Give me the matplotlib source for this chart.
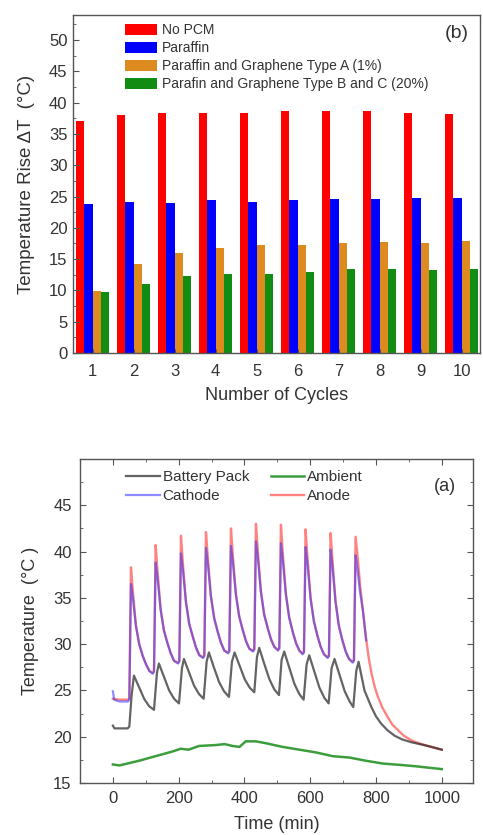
import numpy as np
import matplotlib
matplotlib.use("Agg")
import matplotlib.pyplot as plt
from matplotlib.ticker import MultipleLocator

plt.rcParams['font.family'] = ['Liberation Sans', 'DejaVu Sans']

# ---------------- data: panel (b) bar chart ----------------
cycles = [1, 2, 3, 4, 5, 6, 7, 8, 9, 10]
series_names = ["No PCM", "Paraffin", "Paraffin and Graphene Type A (1%)",
                "Parafin and Graphene Type B and C (20%)"]
no_pcm = [37.1, 38.0, 38.3, 38.4, 38.4, 38.6, 38.6, 38.6, 38.3, 38.2]
paraffin = [23.8, 24.1, 24.0, 24.4, 24.2, 24.4, 24.6, 24.6, 24.7, 24.7]
graphene_a = [9.9, 14.2, 16.0, 16.7, 17.3, 17.3, 17.6, 17.8, 17.5, 17.9]
graphene_bc = [9.8, 11.0, 12.3, 12.6, 12.7, 13.0, 13.4, 13.5, 13.3, 13.5]
bar_colors = ["#ff0000", "#0000ff", "#dd8a1e", "#138c13"]

# ---------------- data: panel (a) temperature vs time ----------------
battery_pack = [(0, 21.2), (5, 20.9), (45, 20.9), (50, 21.1), (57, 24.5), (64, 26.6),
    (79, 25.4), (95, 24.1), (110, 23.3), (125, 22.9), (134, 26.9), (140, 27.9),
    (155, 26.5), (171, 25.0), (186, 24.1), (201, 23.6), (210, 27.4), (216, 28.4),
    (231, 27.0), (247, 25.5), (262, 24.6), (276, 24.1), (285, 28.1), (292, 29.1),
    (307, 27.5), (323, 25.9), (338, 24.9), (353, 24.3), (362, 28.1), (370, 29.1),
    (385, 27.7), (401, 26.2), (416, 25.3), (430, 24.8), (438, 28.6), (445, 29.6),
    (460, 27.9), (476, 26.2), (491, 25.1), (505, 24.5), (513, 28.3), (521, 29.2),
    (536, 27.5), (552, 25.7), (567, 24.6), (580, 24.0), (589, 27.8), (597, 28.8),
    (612, 27.1), (628, 25.3), (643, 24.2), (656, 23.6), (665, 27.4), (674, 28.4),
    (689, 26.7), (705, 24.9), (720, 23.8), (731, 23.2), (740, 27.1), (747, 28.1),
    (765, 25.0), (786, 23.2), (800, 22.2), (816, 21.4), (835, 20.7), (857, 20.1),
    (880, 19.7), (908, 19.4), (958, 19.0), (1000, 18.6)]

anode = [(0, 24.1), (20, 24.0), (46, 24.0), (50, 24.2), (55, 38.3),
    (60, 36.0), (70, 32.0), (80, 30.0), (91, 28.7), (101, 27.8), (111, 27.1), (121, 26.9), (125, 27.1), (130, 40.7),
    (135, 38.2), (145, 33.8), (155, 31.5), (166, 30.1), (176, 29.0), (186, 28.2), (198, 28.0), (202, 28.2), (207, 41.7),
    (212, 39.1), (222, 34.6), (232, 32.2), (243, 30.8), (253, 29.6), (263, 28.8), (274, 28.6), (278, 28.8), (283, 42.1),
    (288, 39.7), (298, 35.2), (308, 32.8), (319, 31.3), (329, 30.1), (339, 29.3), (350, 29.1), (354, 29.3), (359, 42.5),
    (364, 39.9), (374, 35.4), (384, 33.0), (395, 31.5), (405, 30.3), (415, 29.5), (426, 29.3), (430, 29.5), (435, 43.0),
    (440, 40.4), (450, 35.7), (460, 33.2), (471, 31.7), (481, 30.5), (491, 29.7), (502, 29.4), (506, 29.6), (511, 42.9),
    (516, 40.1), (526, 35.4), (536, 32.9), (547, 31.3), (557, 30.1), (567, 29.3), (577, 29.0), (581, 29.2), (586, 42.4),
    (591, 39.7), (601, 35.0), (611, 32.5), (622, 30.9), (632, 29.7), (642, 28.9), (653, 28.6), (657, 28.8), (662, 42.0),
    (667, 39.4), (677, 34.6), (687, 32.0), (698, 30.4), (708, 29.2), (718, 28.4), (729, 28.1), (733, 28.3), (738, 41.6),
    (745, 39.1), (752, 36.2), (760, 33.7), (770, 30.6), (778, 28.5), (786, 26.9), (796, 25.4),
    (806, 24.3), (820, 23.1), (836, 22.1), (850, 21.3), (867, 20.7), (885, 20.1), (908, 19.6),
    (930, 19.3), (958, 19.0), (1000, 18.6)]

cathode = [(0, 24.9), (4, 24.0), (20, 23.8), (46, 23.8), (50, 24.0), (55, 36.5),
    (60, 35.2), (70, 32.0), (80, 30.0), (91, 28.7), (101, 27.8), (111, 27.1), (121, 26.8), (125, 27.0), (130, 38.8),
    (135, 37.4), (145, 33.8), (155, 31.5), (166, 30.1), (176, 29.0), (186, 28.2), (198, 27.9), (202, 28.1), (207, 39.8),
    (212, 38.3), (222, 34.6), (232, 32.2), (243, 30.8), (253, 29.6), (263, 28.8), (274, 28.5), (278, 28.7), (283, 40.4),
    (288, 38.9), (298, 35.2), (308, 32.8), (319, 31.3), (329, 30.1), (339, 29.3), (350, 29.0), (354, 29.2), (359, 40.6),
    (364, 39.1), (374, 35.4), (384, 33.0), (395, 31.5), (405, 30.3), (415, 29.5), (426, 29.2), (430, 29.4), (435, 41.1),
    (440, 39.6), (450, 35.7), (460, 33.2), (471, 31.7), (481, 30.5), (491, 29.7), (502, 29.3), (506, 29.5), (511, 40.9),
    (516, 39.3), (526, 35.4), (536, 32.9), (547, 31.3), (557, 30.1), (567, 29.3), (577, 28.9), (581, 29.1), (586, 40.5),
    (591, 38.9), (601, 35.0), (611, 32.5), (622, 30.9), (632, 29.7), (642, 28.9), (653, 28.5), (657, 28.7), (662, 40.2),
    (667, 38.6), (677, 34.6), (687, 32.0), (698, 30.4), (708, 29.2), (718, 28.4), (729, 28.0), (733, 28.2), (738, 39.6),
    (743, 38.3), (752, 35.5), (760, 33.7), (770, 30.4)]

ambient = [(0, 17.0), (20, 16.9), (79, 17.4), (130, 17.9), (181, 18.4), (206, 18.7),
    (230, 18.6), (262, 19.0), (313, 19.1), (340, 19.2), (364, 19.0), (385, 18.9),
    (404, 19.5), (435, 19.5), (465, 19.3), (516, 18.9), (567, 18.6), (618, 18.3),
    (668, 17.9), (719, 17.75), (770, 17.4), (821, 17.1), (872, 16.96), (923, 16.8),
    (1000, 16.5)]

TXT = "#333333"
SPINE = "#555555"

fig = plt.figure(figsize=(4.83, 8.35), dpi=100)

# ================= panel (b) =================
axb = fig.add_axes([73/483, 1-353/835, 407/483, 338/835])
x = np.array(cycles, dtype=float)
w = 0.2
for i, (vals, name, c) in enumerate(zip([no_pcm, paraffin, graphene_a, graphene_bc],
                                         series_names, bar_colors)):
    axb.bar(x + (i - 1.5) * w, vals, width=w, color=c, label=name, linewidth=0)
axb.set_xlim(0.52, 10.45)
axb.set_ylim(0, 54)
axb.set_xticks(cycles)
axb.yaxis.set_major_locator(MultipleLocator(5))
axb.yaxis.set_minor_locator(MultipleLocator(2.5))
axb.tick_params(axis='y', which='major', direction='in', length=4, labelsize=12,
                colors=SPINE, labelcolor=TXT, pad=4)
axb.tick_params(axis='y', which='minor', direction='in', length=2, colors=SPINE)
axb.tick_params(axis='x', which='major', direction='in', length=3, labelsize=12,
                colors=SPINE, labelcolor=TXT, pad=8)
for s in axb.spines.values():
    s.set_color(SPINE)
    s.set_linewidth(1.0)
axb.set_ylabel("Temperature Rise ΔT  (°C)", fontsize=13.5, color=TXT, labelpad=10)
axb.set_xlabel("Number of Cycles", fontsize=13, color=TXT, labelpad=6)
axb.text(0.943, 0.944, "(b)", transform=axb.transAxes, fontsize=14, color=TXT,
         ha='center', va='center')
leg = axb.legend(loc='upper left', bbox_to_anchor=(0.128, 0.975), frameon=False,
                 fontsize=10, borderpad=0, borderaxespad=0, labelspacing=0.28,
                 handlelength=2.3, handleheight=0.8, handletextpad=0.35)
for t in leg.get_texts():
    t.set_color(TXT)

# ================= panel (a) =================
axa = fig.add_axes([80/483, 1-783/835, 393/483, 324/835])

def xy(pairs):
    a = np.array(pairs, dtype=float)
    return a[:, 0], a[:, 1]

t_bp, T_bp = xy(battery_pack)
t_an, T_an = xy(anode)
t_ca, T_ca = xy(cathode)
t_am, T_am = xy(ambient)

axa.plot(t_an, T_an, color="#ff4040", lw=1.7, alpha=0.65, label="Anode", zorder=2)
axa.plot(t_ca, T_ca, color="#3030ff", lw=1.6, alpha=0.55, label="Cathode", zorder=3)
axa.plot(t_bp, T_bp, color="#222222", lw=1.6, alpha=0.7, label="Battery Pack", zorder=4)
axa.plot(t_am, T_am, color="#1a8c1a", lw=1.8, alpha=0.85, label="Ambient", zorder=4)

axa.set_xlim(-100, 1095)
axa.set_ylim(15, 50)
axa.set_xticks([0, 200, 400, 600, 800, 1000])
axa.xaxis.set_minor_locator(MultipleLocator(100))
axa.set_yticks([15, 20, 25, 30, 35, 40, 45])
axa.yaxis.set_minor_locator(MultipleLocator(2.5))
axa.tick_params(which='both', direction='in', top=True, right=True, colors=SPINE)
axa.tick_params(which='major', length=4, labelsize=12, labelcolor=TXT, pad=6)
axa.tick_params(which='minor', length=2)
for s in axa.spines.values():
    s.set_color(SPINE)
    s.set_linewidth(1.0)
axa.set_ylabel("Temperature  (°C )", fontsize=13, color=TXT, labelpad=10)
axa.set_xlabel("Time (min)", fontsize=13, color=TXT, labelpad=7)
axa.text(0.929, 0.914, "(a)", transform=axa.transAxes, fontsize=13, color=TXT,
         ha='center', va='center')

handles, labels = axa.get_legend_handles_labels()
order = [labels.index(n) for n in ["Battery Pack", "Cathode", "Ambient", "Anode"]]
lg = axa.legend([handles[i] for i in order], [labels[i] for i in order], ncol=2,
                loc='upper left', bbox_to_anchor=(0.117, 0.965), frameon=False,
                fontsize=11, borderpad=0, borderaxespad=0, labelspacing=0.3,
                handlelength=2.2, handletextpad=0.2, columnspacing=1.4)
for t in lg.get_texts():
    t.set_color(TXT)

fig.savefig("out.png", dpi=100)
